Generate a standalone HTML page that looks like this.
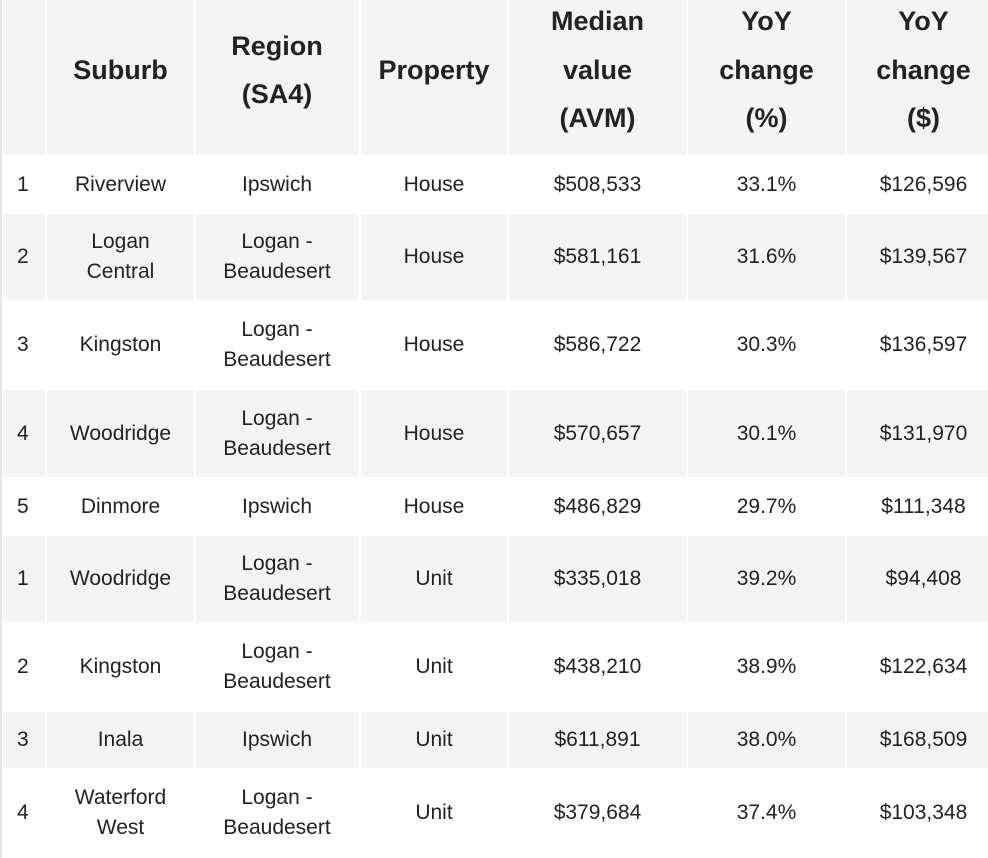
<!DOCTYPE html>
<html><head><style>
body{margin:0;width:988px;height:858px;background:#fff;font-family:"Liberation Sans",Arial,sans-serif;color:#222;overflow:hidden;position:relative}
.c{position:absolute;display:flex;align-items:center;justify-content:center;text-align:center;font-size:21px;line-height:30px;box-sizing:border-box}
.g{background:#f4f4f4}
.h{font-weight:bold;font-size:27px;line-height:48.5px;padding-bottom:15px}
</style></head><body>
<div style="position:absolute;left:0;top:0;width:2px;height:858px;background:#e6e6e6"></div>
<div id="t"></div>
<script>
var cols=[[3,45],[47,194],[196,358],[361,507],[509,686],[688,845],[847,1000]];
var rows=[[0,155],[157,212],[214,300],[302,388],[390,477],[479,534],[536,622],[624,710],[712,768],[770,856]];
var data=[
["","Suburb","Region<br>(SA4)","Property","Median<br>value<br>(AVM)","YoY<br>change<br>(%)","YoY<br>change<br>($)"],
["1","Riverview","Ipswich","House","$508,533","33.1%","$126,596"],
["2","Logan<br>Central","Logan -<br>Beaudesert","House","$581,161","31.6%","$139,567"],
["3","Kingston","Logan -<br>Beaudesert","House","$586,722","30.3%","$136,597"],
["4","Woodridge","Logan -<br>Beaudesert","House","$570,657","30.1%","$131,970"],
["5","Dinmore","Ipswich","House","$486,829","29.7%","$111,348"],
["1","Woodridge","Logan -<br>Beaudesert","Unit","$335,018","39.2%","$94,408"],
["2","Kingston","Logan -<br>Beaudesert","Unit","$438,210","38.9%","$122,634"],
["3","Inala","Ipswich","Unit","$611,891","38.0%","$168,509"],
["4","Waterford<br>West","Logan -<br>Beaudesert","Unit","$379,684","37.4%","$103,348"]];
var h="";
for(var r=0;r<rows.length;r++)for(var c=0;c<cols.length;c++){
var cls="c"+(r%2==0?" g":"")+(r==0?" h":"");
var x=cols[c][0],w=cols[c][1]-x,y=rows[r][0],hh=rows[r][1]-y;
h+='<div class="'+cls+'" style="left:'+x+'px;top:'+y+'px;width:'+w+'px;height:'+hh+'px;'+(c==0&&r>0?'justify-content:flex-start;padding-left:14px;':'')+'">'+data[r][c]+'</div>';}
document.getElementById("t").innerHTML=h;
</script>
</body></html>
